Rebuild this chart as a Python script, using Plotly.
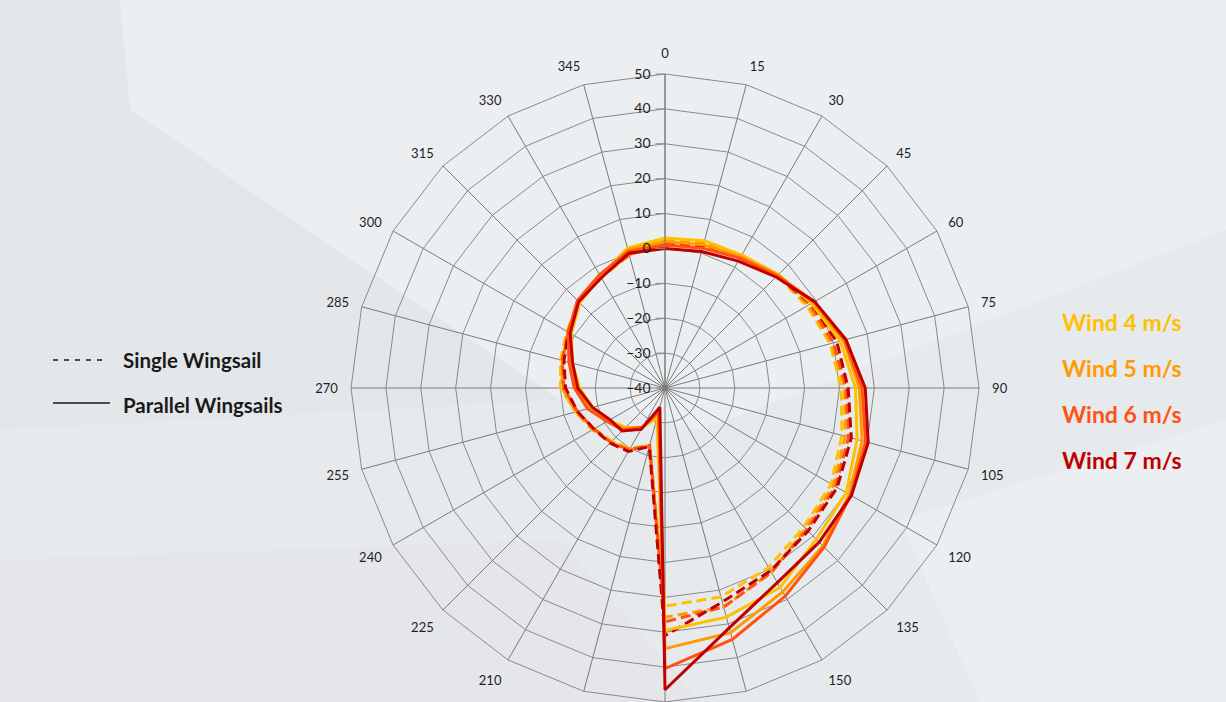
import plotly.graph_objects as go

# Apparent wind angle (degrees) around the rose
angles = [str(a) for a in range(0, 360, 15)]

# Radial axis ticks
r_ticks = [-40, -30, -20, -10, 0, 10, 20, 30, 40, 50]

# Single wingsail (dashed)
single_w4 = [2.5, 3.5, 3.5, 5.5, 7, 9, 10.5, 12.5, 15, 16.3, 19.4, 22, 22.5,
             -23, -20, -18.4, -16.7, -13.5, -10, -9, -7.5, -5, -3.5, -0.5]
single_w5 = [2, 3, 3.5, 5.5, 7.5, 9.5, 11.5, 13.5, 15.8, 17, 21, 25, 25.7,
             -23, -19.5, -18, -16, -13.5, -10.5, -9.5, -8, -5, -3, -0.5]
single_w6 = [1.5, 2.5, 3, 5.5, 8, 10, 12, 14.5, 16.5, 17.5, 21, 25, 27,
             -23, -19.5, -18, -16.5, -14, -11, -9.5, -8, -5, -3, -0.5]
single_w7 = [1, 2, 3, 5.5, 8.5, 11, 12.5, 15.3, 17, 18, 20.5, 23.5, 31,
             -22.6, -19, -17.7, -16.5, -14, -11.5, -10, -8, -5, -3, 0]

# Parallel wingsails (solid)
parallel_w4 = [3, 3.7, 4, 6, 8.5, 12, 14.6, 17, 20, 21.3, 26, 28, 29.5,
               -31, -27, -24, -21.5, -18.5, -15.5, -12.5, -9, -5.5, -3, 1.5]
parallel_w5 = [2, 2.5, 3.5, 5.8, 9, 13, 15.7, 18.5, 21, 24, 27.5, 32.6, 34.7,
               -32.5, -27, -23.5, -21, -17.5, -14.5, -12, -8.5, -5, -3, 1]
parallel_w6 = [1, 1.5, 3, 5.5, 9.5, 13.3, 16.5, 19.5, 21.5, 24.5, 28.9, 34.6, 40.4,
               -33, -27, -23, -20.8, -17, -14, -11.5, -8, -4.5, -2.5, 0.5]
parallel_w7 = [0, 0.5, 2, 5, 9.5, 13.7, 17.4, 20.3, 21.7, 22.5, 24.4, 31.2, 46.5,
               -34.3, -26.3, -22.6, -21.8, -18.5, -15, -12.6, -8.6, -5, -3.5, 0]

wind_labels = ["Wind 4 m/s", "Wind 5 m/s", "Wind 6 m/s", "Wind 7 m/s"]
wind_colors = ["#FFC000", "#FF9A00", "#FF5214", "#C00000"]

W, H = 1226, 702
FONT = "Lato, Open Sans, sans-serif"


def px(x):
    return x / W


def py(y):
    return 1 - y / H


def closed(vals):
    return vals + vals[:1]


def pixel_path(points):
    cmds = []
    for k, (x, y) in enumerate(points):
        cmds.append(("M" if k == 0 else "L") + f" {px(x):.4f} {py(y):.4f}")
    return " ".join(cmds) + " Z"


theta = closed(angles)

fig = go.Figure()

singles = [single_w4, single_w5, single_w6, single_w7]
parallels = [parallel_w4, parallel_w5, parallel_w6, parallel_w7]

for vals, col, name in zip(singles, wind_colors, wind_labels):
    fig.add_trace(go.Scatterpolar(
        r=closed(vals), theta=theta, mode="lines",
        line=dict(color=col, width=3, dash="10px,5px"),
        name=name + " single", showlegend=False, hoverinfo="skip"))

for vals, col, name in zip(parallels, wind_colors, wind_labels):
    fig.add_trace(go.Scatterpolar(
        r=closed(vals), theta=theta, mode="lines",
        line=dict(color=col, width=3),
        name=name + " parallel", showlegend=False, hoverinfo="skip"))

# Polar area: centre (665, 388), radius 314 px
cx, cy, rad = 665, 388, 314
fig.update_layout(
    width=W, height=H,
    margin=dict(l=0, r=0, t=0, b=0),
    paper_bgcolor="#e7eaec",
    plot_bgcolor="rgba(0,0,0,0)",
    polar=dict(
        domain=dict(x=[px(cx - rad), px(cx + rad)], y=[py(cy + rad), py(cy - rad)]),
        bgcolor="rgba(0,0,0,0)",
        gridshape="linear",
        angularaxis=dict(
            type="category", categoryarray=angles,
            direction="clockwise", rotation=90,
            showline=True, linecolor="#8a8a8a", linewidth=1,
            gridcolor="#7a7a7a", gridwidth=1,
            ticks="outside", ticklen=10, tickcolor="rgba(0,0,0,0)",
            tickfont=dict(family=FONT, size=13, color="#1f1f1f"),
        ),
        radialaxis=dict(
            range=[-40, 50], tickvals=r_ticks, angle=90, side="counterclockwise",
            tickangle=90,
            showline=True, linecolor="#7a7a7a", linewidth=1,
            gridcolor="#8a8a8a", gridwidth=1,
            ticks="outside", ticklen=9, tickcolor="#8a8a8a",
            tickfont=dict(family=FONT, size=14, color="#1f1f1f"),
        ),
    ),
)

# Soft background bands (pixel outlines)
bands = [
    ([(120, 0), (1226, 0), (1226, 230), (700, 430), (560, 400), (130, 110)],
     "rgba(245,248,250,0.40)"),
    ([(0, 0), (120, 0), (130, 110), (560, 400), (0, 430)],
     "rgba(220,224,227,0.25)"),
    ([(0, 560), (560, 540), (700, 702), (0, 702)],
     "rgba(215,218,221,0.18)"),
    ([(900, 520), (1226, 420), (1226, 702), (980, 702)],
     "rgba(250,252,253,0.30)"),
]
shapes = [dict(type="path", path=pixel_path(pts), xref="paper", yref="paper",
               fillcolor=fill, line=dict(width=0), layer="below")
          for pts, fill in bands]

# Line-style key on the left
shapes.append(dict(type="line", xref="paper", yref="paper",
                   x0=px(53), x1=px(108), y0=py(360), y1=py(360),
                   line=dict(color="#1a1a1a", width=1.6, dash="5px,6px")))
shapes.append(dict(type="line", xref="paper", yref="paper",
                   x0=px(53), x1=px(110), y0=py(403), y1=py(403),
                   line=dict(color="#1a1a1a", width=1.6)))
fig.update_layout(shapes=shapes)

key_font = dict(family=FONT, size=20.5, color="#1a1a1a")
fig.add_annotation(x=px(121), y=py(360), xref="paper", yref="paper", xanchor="left",
                   yanchor="middle", showarrow=False, text="<b>Single Wingsail</b>", font=key_font)
fig.add_annotation(x=px(121), y=py(405), xref="paper", yref="paper", xanchor="left",
                   yanchor="middle", showarrow=False, text="<b>Parallel Wingsails</b>", font=key_font)

# Wind speed key on the right
for k, (lab, col) in enumerate(zip(wind_labels, wind_colors)):
    fig.add_annotation(x=px(1060), y=py(322 + 46 * k), xref="paper", yref="paper",
                       xanchor="left", yanchor="middle", showarrow=False,
                       text=f"<b>{lab}</b>",
                       font=dict(family=FONT, size=23, color=col))

fig.write_html("out.html")
